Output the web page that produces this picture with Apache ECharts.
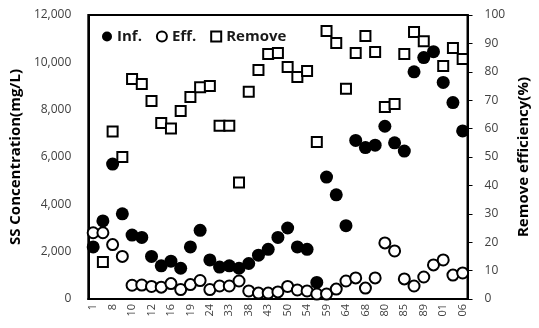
<!DOCTYPE html>
<html>
<head>
<meta charset="utf-8">
<script src="https://cdn.jsdelivr.net/npm/echarts@6/dist/echarts.min.js"></script>
<style>
html,body{margin:0;padding:0;background:#fff;}
#chart{width:539px;height:328px;}
</style>
</head>
<body>
<div id="chart"></div>
<script>
// Tick labels shown on the x axis (every other sample)
var tickLabels = ['1','8','10','12','16','19','24','33','38','43','50','54','59','64','68','80','85','89','01','06'];
// Influent SS (mg/L)
var infValues = [2200, 3300, 5700, 3600, 2700, 2600, 1800, 1400, 1600, 1300, 2200, 2900, 1650, 1350, 1400, 1300, 1500, 1850, 2100, 2600, 3000, 2200, 2100, 700, 5150, 4400, 3100, 6700, 6400, 6500, 7300, 6600, 6250, 9600, 10200, 10450, 9150, 8300, 7100];
// Effluent SS (mg/L)
var effValues = [2800, 2800, 2300, 1800, 580, 590, 530, 500, 650, 400, 610, 780, 400, 550, 550, 760, 340, 250, 250, 300, 530, 380, 340, 210, 210, 420, 760, 890, 460, 890, 2370, 2030, 850, 550, 930, 1440, 1650, 1010, 1100];
// Removal efficiency (%)
var removeValues = [null, 13, 59, 50, 77.5, 75.7, 69.7, 62, 60, 66.2, 71.1, 74.6, 75, 61, 61, 41, 73, 80.6, 86.3, 86.6, 81.7, 78.2, 80.3, 55.3, 94.4, 90.1, 74, 86.6, 92.6, 87, 67.6, 68.7, 86.3, 94, 90.8, null, 82, 88.4, 84.5];

// categories: labelled samples at even positions, unlabelled in between
var categories = [];
for (var i = 0; i < infValues.length; i++) {
  categories.push(i % 2 === 0 ? tickLabels[i / 2] : '');
}

var FONT = '"Open Sans", "DejaVu Sans", sans-serif';
var chart = echarts.init(document.getElementById('chart'), null, {renderer: 'canvas'});
chart.setOption({
  animation: false,
  backgroundColor: '#fff',
  textStyle: {fontFamily: FONT},
  grid: {left: 88, right: 65, top: 15, bottom: 29, show: true, borderColor: '#000', borderWidth: 2, backgroundColor: 'transparent'},
  legend: {
    left: 97, top: 24,
    itemWidth: 10, itemHeight: 10, itemGap: 14,
    textStyle: {fontFamily: FONT, fontSize: 15, fontWeight: 'bold', color: '#1a1a1a'},
    data: ['Inf.', 'Eff.', 'Remove']
  },
  xAxis: {
    type: 'category',
    data: categories,
    boundaryGap: true,
    axisLine: {lineStyle: {color: '#000', width: 2}},
    axisTick: {show: false},
    axisLabel: {interval: 0, rotate: 90, fontSize: 11, color: '#404040', margin: 5, fontFamily: FONT},
    splitLine: {show: false}
  },
  yAxis: [{
    type: 'value', min: 0, max: 12000, interval: 2000,
    name: 'SS Concentration(mg/L)', nameLocation: 'middle', nameRotate: 90, nameGap: 59,
    nameTextStyle: {fontFamily: FONT, fontSize: 15, fontWeight: 'bold', color: '#000'},
    axisLine: {show: true, lineStyle: {color: '#000', width: 2}},
    axisTick: {show: false},
    axisLabel: {fontSize: 12, color: '#404040', margin: 17, fontFamily: FONT,
      formatter: function (v) { return v.toLocaleString('en-US'); }},
    splitLine: {show: false}
  }, {
    type: 'value', min: 0, max: 100, interval: 10, position: 'right',
    name: 'Remove efficiency(%)', nameLocation: 'middle', nameRotate: 90, nameGap: 42,
    nameTextStyle: {fontFamily: FONT, fontSize: 15, fontWeight: 'bold', color: '#000'},
    axisLine: {show: true, lineStyle: {color: '#000', width: 2}},
    axisTick: {show: true, inside: false, length: 5, lineStyle: {color: '#000', width: 1}},
    axisLabel: {fontSize: 12, color: '#404040', margin: 17, fontFamily: FONT},
    splitLine: {show: false}
  }],
  series: [{
    name: 'Inf.', type: 'scatter', data: infValues, symbol: 'circle', symbolSize: 13,
    itemStyle: {color: '#000', opacity: 1}, z: 2
  }, {
    name: 'Eff.', type: 'scatter', data: effValues, symbol: 'circle', symbolSize: 11,
    itemStyle: {color: '#fff', borderColor: '#000', borderWidth: 2, opacity: 1}, z: 3
  }, {
    name: 'Remove', type: 'scatter', yAxisIndex: 1, data: removeValues, symbol: 'rect', symbolSize: 10,
    itemStyle: {color: '#fff', borderColor: '#000', borderWidth: 2, opacity: 1}, z: 4
  }]
});
</script>
</body>
</html>
